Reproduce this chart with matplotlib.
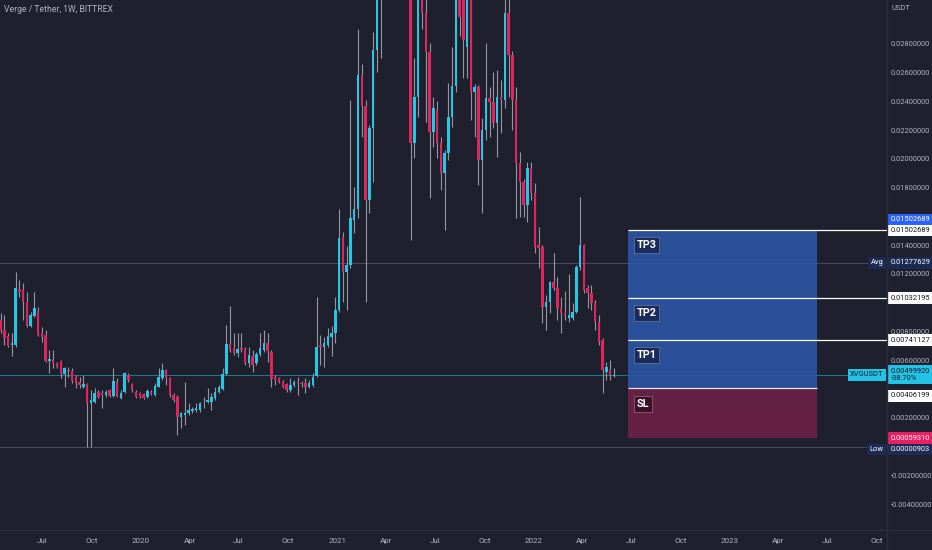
import pandas as pd
import numpy as np
import matplotlib.pyplot as plt
import matplotlib.dates as mdates
from matplotlib import font_manager

# -----------------------------
# Data: weekly XVG/USDT candles
# -----------------------------
first_week = "2019-04-15"

opens = [0.00881, 0.00811, 0.00769, 0.00707, 0.00707, 0.01094, 0.01089, 0.01008, 0.00839, 0.00908,
         0.00943, 0.00788, 0.00776, 0.00598, 0.00603, 0.00580, 0.00598, 0.00505, 0.00533, 0.00529,
         0.00487, 0.00452, 0.00413, 0.00436, 0.00302, 0.00313, 0.00383, 0.00371, 0.00360, 0.00394,
         0.00355, 0.00452, 0.00337, 0.00383, 0.00499, 0.00436, 0.00383, 0.00371, 0.00367, 0.00348,
         0.00383, 0.00360, 0.00417, 0.00475, 0.00533, 0.00475, 0.00360, 0.00348, 0.00209, 0.00221,
         0.00237, 0.00251, 0.00255, 0.00255, 0.00302, 0.00313, 0.00313, 0.00337, 0.00383, 0.00399,
         0.00505, 0.00714, 0.00684, 0.00649, 0.00684, 0.00677, 0.00580, 0.00630, 0.00580, 0.00642,
         0.00672, 0.00723, 0.00661, 0.00487, 0.00475, 0.00452, 0.00436, 0.00394, 0.00429, 0.00452,
         0.00445, 0.00441, 0.00417, 0.00429, 0.00492, 0.00707, 0.00695, 0.00707, 0.00763, 0.00790,
         0.00950, 0.01457, 0.01214, 0.01263, 0.01575, 0.01651, 0.02582, 0.02367, 0.01714, 0.02214,
         0.02756, 0.0350, 0.0420, 0.0550, 0.0700, 0.0600, 0.0650, 0.0550, 0.0600, 0.0400,
         0.02110, 0.02429, 0.0335, 0.03012, 0.02742, 0.02186, 0.02339, 0.02110, 0.01901, 0.02040,
         0.02290, 0.02506, 0.0330, 0.0315, 0.02776, 0.0318, 0.02464, 0.02499, 0.01992, 0.02200,
         0.02422, 0.02394, 0.02249, 0.02429, 0.02408, 0.03012, 0.02721, 0.02408, 0.01971, 0.01839,
         0.01679, 0.01936, 0.01762, 0.01401, 0.01388, 0.00971, 0.01006, 0.01144, 0.01103, 0.00963,
         0.00929, 0.00894, 0.00894, 0.00936, 0.01249, 0.01401, 0.01103, 0.01068, 0.00999, 0.00867,
         0.00742, 0.00519, 0.00533, 0.00495]

closes = [0.00811, 0.00753, 0.00700, 0.00718, 0.01101, 0.01077, 0.01008, 0.00839, 0.00915, 0.00962,
          0.00776, 0.00765, 0.00598, 0.00607, 0.00580, 0.00552, 0.00510, 0.00545, 0.00529, 0.00459,
          0.00445, 0.00429, 0.00436, 0.00302, 0.00325, 0.00371, 0.00344, 0.00362, 0.00383, 0.00355,
          0.00459, 0.00348, 0.00376, 0.00510, 0.00464, 0.00394, 0.00348, 0.00348, 0.00337, 0.00390,
          0.00367, 0.00422, 0.00482, 0.00533, 0.00475, 0.00360, 0.00325, 0.00209, 0.00232, 0.00237,
          0.00255, 0.00262, 0.00272, 0.00302, 0.00306, 0.00325, 0.00348, 0.00383, 0.00413, 0.00505,
          0.00714, 0.00672, 0.00649, 0.00679, 0.00672, 0.00580, 0.00637, 0.00568, 0.00644, 0.00684,
          0.00718, 0.00665, 0.00468, 0.00464, 0.00452, 0.00417, 0.00394, 0.00429, 0.00452, 0.00441,
          0.00436, 0.00417, 0.00441, 0.00482, 0.00695, 0.00695, 0.00718, 0.00769, 0.00790, 0.00950,
          0.01450, 0.01214, 0.01263, 0.01589, 0.01651, 0.02582, 0.02367, 0.01714, 0.02214, 0.02756,
          0.0350, 0.0420, 0.0550, 0.0700, 0.0600, 0.0650, 0.0550, 0.0600, 0.0450, 0.02110,
          0.02429, 0.0330, 0.03012, 0.02742, 0.02186, 0.02353, 0.02110, 0.01901, 0.02040, 0.02290,
          0.02506, 0.0325, 0.02985, 0.02825, 0.0318, 0.02464, 0.02499, 0.01992, 0.02200, 0.02422,
          0.02394, 0.02249, 0.02429, 0.02408, 0.03012, 0.02721, 0.02408, 0.01971, 0.01839, 0.01679,
          0.01936, 0.01762, 0.01388, 0.01380, 0.00971, 0.01006, 0.01144, 0.01103, 0.00963, 0.00929,
          0.00915, 0.00915, 0.00936, 0.01249, 0.01401, 0.01089, 0.01068, 0.00999, 0.00867, 0.00728,
          0.00533, 0.00554, 0.00499, 0.00500]

highs = [0.00927, 0.00915, 0.00788, 0.00788, 0.01216, 0.01158, 0.01135, 0.01077, 0.00938, 0.01077,
         0.00973, 0.00834, 0.00811, 0.00672, 0.00672, 0.00591, 0.00603, 0.00556, 0.00556, 0.00545,
         0.00499, 0.00487, 0.00499, 0.00441, 0.00394, 0.00406, 0.00394, 0.00394, 0.00394, 0.00399,
         0.00545, 0.00475, 0.00394, 0.00522, 0.00510, 0.00445, 0.00394, 0.00383, 0.00376, 0.00399,
         0.00394, 0.00441, 0.00545, 0.00580, 0.00538, 0.00487, 0.00371, 0.00360, 0.00244, 0.00452,
         0.00302, 0.00279, 0.00302, 0.00313, 0.00348, 0.00406, 0.00371, 0.00417, 0.00429, 0.00545,
         0.00846, 0.00978, 0.00788, 0.00788, 0.00788, 0.00695, 0.00695, 0.00672, 0.00661, 0.00788,
         0.00811, 0.00788, 0.00672, 0.00499, 0.00487, 0.00464, 0.00445, 0.00475, 0.00464, 0.00487,
         0.00459, 0.00475, 0.00464, 0.00510, 0.01043, 0.00776, 0.00765, 0.00823, 0.00839, 0.01040,
         0.01651, 0.01492, 0.01395, 0.02408, 0.01804, 0.02901, 0.02658, 0.02408, 0.02235, 0.02881,
         0.0400, 0.0480, 0.0600, 0.0800, 0.0850, 0.0700, 0.0700, 0.0660, 0.0620, 0.0450,
         0.0270, 0.0360, 0.0370, 0.0320, 0.02804, 0.02429, 0.0240, 0.0215, 0.02061, 0.02526,
         0.02776, 0.0360, 0.0380, 0.0340, 0.0350, 0.0340, 0.0252, 0.02513, 0.02283, 0.02804,
         0.0250, 0.02603, 0.02617, 0.0255, 0.0330, 0.0320, 0.0275, 0.02499, 0.02047, 0.01860,
         0.01978, 0.01978, 0.01832, 0.01526, 0.01401, 0.01054, 0.01150, 0.01346, 0.01180, 0.01040,
         0.01080, 0.01200, 0.00999, 0.01263, 0.01735, 0.01410, 0.01124, 0.01124, 0.01019, 0.00915,
         0.00756, 0.00587, 0.00603, 0.00547]

lows = [0.00788, 0.00707, 0.00695, 0.00630, 0.00695, 0.01043, 0.00881, 0.00834, 0.00834, 0.00900,
        0.00769, 0.00730, 0.00591, 0.00515, 0.00545, 0.00545, 0.00475, 0.00417, 0.00487, 0.00441,
        0.00406, 0.00406, 0.00406, 0.00001, 0.00001, 0.00302, 0.00337, 0.00267, 0.00348, 0.00348,
        0.00348, 0.00344, 0.00330, 0.00371, 0.00452, 0.00383, 0.00337, 0.00337, 0.00330, 0.00337,
        0.00360, 0.00353, 0.00413, 0.00464, 0.00429, 0.00348, 0.00313, 0.00082, 0.00128, 0.00151,
        0.00221, 0.00232, 0.00244, 0.00244, 0.00267, 0.00302, 0.00255, 0.00325, 0.00371, 0.00394,
        0.00499, 0.00661, 0.00637, 0.00626, 0.00661, 0.00568, 0.00556, 0.00522, 0.00568, 0.00630,
        0.00661, 0.00591, 0.00417, 0.00429, 0.00441, 0.00406, 0.00383, 0.00383, 0.00417, 0.00360,
        0.00417, 0.00371, 0.00406, 0.00417, 0.00487, 0.00568, 0.00556, 0.00695, 0.00631, 0.00721,
        0.00936, 0.01006, 0.00950, 0.01242, 0.01485, 0.01589, 0.02151, 0.01006, 0.01624, 0.01839,
        0.02603, 0.0270, 0.0400, 0.0500, 0.0550, 0.0500, 0.0480, 0.0500, 0.0350, 0.01436,
        0.02006, 0.02290, 0.0290, 0.02256, 0.01728, 0.02082, 0.02006, 0.01783, 0.01506, 0.01992,
        0.02221, 0.02464, 0.0285, 0.02561, 0.02561, 0.02269, 0.0215, 0.01818, 0.01624, 0.02130,
        0.02151, 0.02214, 0.02013, 0.0218, 0.0235, 0.02429, 0.02200, 0.01589, 0.01596, 0.01596,
        0.01561, 0.01714, 0.01346, 0.01242, 0.00860, 0.00811, 0.00929, 0.01089, 0.00880, 0.00790,
        0.00880, 0.00867, 0.00880, 0.00929, 0.01230, 0.01068, 0.00963, 0.00950, 0.00811, 0.00707,
        0.00374, 0.00464, 0.00464, 0.00485]

# position tool levels
tp3 = 0.01502689
tp2 = 0.01032195
tp1 = 0.00741127
entry = 0.00406199
stop = 0.00059310
avg_price = 0.01277629
low_price = 0.00000903
last_price = 0.00499920
change_pct = "-38.70%"
box_start = "2022-06-25"
box_end = "2023-06-12"

y_ticks = [0.028, 0.026, 0.024, 0.022, 0.020, 0.018, 0.014, 0.012,
           0.008, 0.006, 0.002, -0.002, -0.004]

# -----------------------------
# Style
# -----------------------------
names = {f.name for f in font_manager.fontManager.ttflist}
narrow = "Liberation Sans Narrow" if "Liberation Sans Narrow" in names else "Roboto"
plt.rcParams["font.family"] = [narrow, "DejaVu Sans"]

bg = "#1e212d"
up = "#26c6e6"
down = "#e0245e"
wick = "#9497a0"
txt = "#b2b5be"
fs = 5.4

dates = pd.date_range(first_week, periods=len(opens), freq="W-MON")
x = mdates.date2num(dates)
o = np.array(opens)
c = np.array(closes)
h = np.array(highs)
l = np.array(lows)
col = np.where(c >= o, up, down)

fig = plt.figure(figsize=(9.32, 5.5), dpi=100, facecolor=bg)
ax = fig.add_axes([0, 20 / 550, 887 / 932, 530 / 550], facecolor=bg)

# reference lines
ax.axhline(avg_price, color="#4a4e5a", lw=0.7, zorder=1)
ax.axhline(low_price, color="#4a4e5a", lw=0.7, zorder=1)
ax.axhline(last_price, color="#1fa3c4", lw=0.6, alpha=0.8, zorder=1)

# candles
ax.vlines(x, l, h, color=wick, lw=0.8, zorder=2)
body = np.maximum(np.abs(c - o), 0.00005)
ax.bar(x, body, bottom=np.minimum(o, c), width=4.6, color=col, lw=0, zorder=3)

# position tool
bx0 = mdates.date2num(pd.Timestamp(box_start))
bx1 = mdates.date2num(pd.Timestamp(box_end))
ax.fill_between([bx0, bx1], entry, tp3, color="#2b55a3", alpha=0.92, lw=0, zorder=4)
ax.fill_between([bx0, bx1], stop, entry, color="#6a2145", alpha=0.95, lw=0, zorder=4)
xr = mdates.date2num(pd.Timestamp("2023-10-20"))
ax.hlines([tp3, tp2, tp1], bx0, xr, color="white", lw=0.9, zorder=5)
ax.hlines([entry], bx0, bx1, color="#e8e8f0", lw=0.9, zorder=5)

lab_x = bx0 + 16
for name, yv in [("TP3", 0.01401), ("TP2", 0.00929), ("TP1", 0.00638)]:
    ax.text(lab_x, yv, name, color="white", fontsize=7.8, fontweight="bold", va="center",
            ha="left", zorder=6,
            bbox=dict(boxstyle="square,pad=0.25", fc="#1b2c5c", ec="#5d6f9a", lw=0.6))
ax.text(lab_x, 0.00297, "SL", color="white", fontsize=7.8, fontweight="bold", va="center",
        ha="left", zorder=6,
        bbox=dict(boxstyle="square,pad=0.25", fc="#3c1229", ec="#8e5c74", lw=0.6))

ax.set_xlim(mdates.date2num(pd.Timestamp("2019-04-14")), xr)
ax.set_ylim(-0.00578, 0.03103)

# time axis
xt = pd.date_range("2019-07-01", "2023-10-01", freq="3MS")
ax.set_xticks(mdates.date2num(xt))
ax.set_xticklabels([str(d.year) if d.month == 1 else d.strftime("%b") for d in xt])

# price axis
ax.yaxis.tick_right()
ax.set_yticks(y_ticks)
ax.set_yticklabels(["%.8f" % v for v in y_ticks])
ax.tick_params(axis="x", length=0, pad=6, colors=txt, labelsize=5.8)
ax.tick_params(axis="y", length=0, pad=2.5, colors=txt, labelsize=fs)
for s in ax.spines.values():
    s.set_visible(False)

# price axis labels
yt = ax.get_yaxis_transform()


def tag(yv, s, fc, tc, xpos=1.004, ha="left"):
    ax.text(xpos, yv, s, transform=yt, color=tc, fontsize=fs, va="center", ha=ha,
            clip_on=False, zorder=10, linespacing=1.1,
            bbox=dict(boxstyle="square,pad=0.3", fc=fc, ec="none"))


tag(0.01580, "%.8f" % tp3, "#2962ff", "white")
tag(tp3, "%.8f" % tp3, "white", "#131722")
tag(avg_price, "%.8f" % avg_price, "#1c2b55", "white")
tag(avg_price, "Avg", "#1c2b55", "white", xpos=0.996, ha="right")
tag(tp2, "%.8f" % tp2, "white", "#131722")
tag(tp1, "%.8f" % tp1, "white", "#131722")
tag(last_price, "%.8f\n%s" % (last_price, change_pct), "#22c3e6", "#131722")
tag(last_price, "XVGUSDT", "#22c3e6", "#131722", xpos=0.996, ha="right")
tag(0.00353, "%.8f" % entry, "white", "#131722")
tag(stop, "%.8f" % stop, "#e91e63", "white")
tag(-0.00020, "%.8f" % low_price, "#1c2b55", "white")
tag(-0.00020, "Low", "#1c2b55", "white", xpos=0.996, ha="right")

# separators and headers
fig.add_artist(plt.Line2D([887 / 932, 887 / 932], [0, 1], color="#2a2e39", lw=1))
fig.add_artist(plt.Line2D([0, 1], [20 / 550, 20 / 550], color="#2a2e39", lw=1))
fig.text(891 / 932, 1 - 8 / 550, "USDT", color=txt, fontsize=fs, va="center")
fig.text(4 / 932, 1 - 10 / 550, "Verge / Tether, 1W, BITTREX", color=txt, fontsize=6.2,
         va="center")

plt.savefig("out.png", dpi=100, facecolor=bg)
